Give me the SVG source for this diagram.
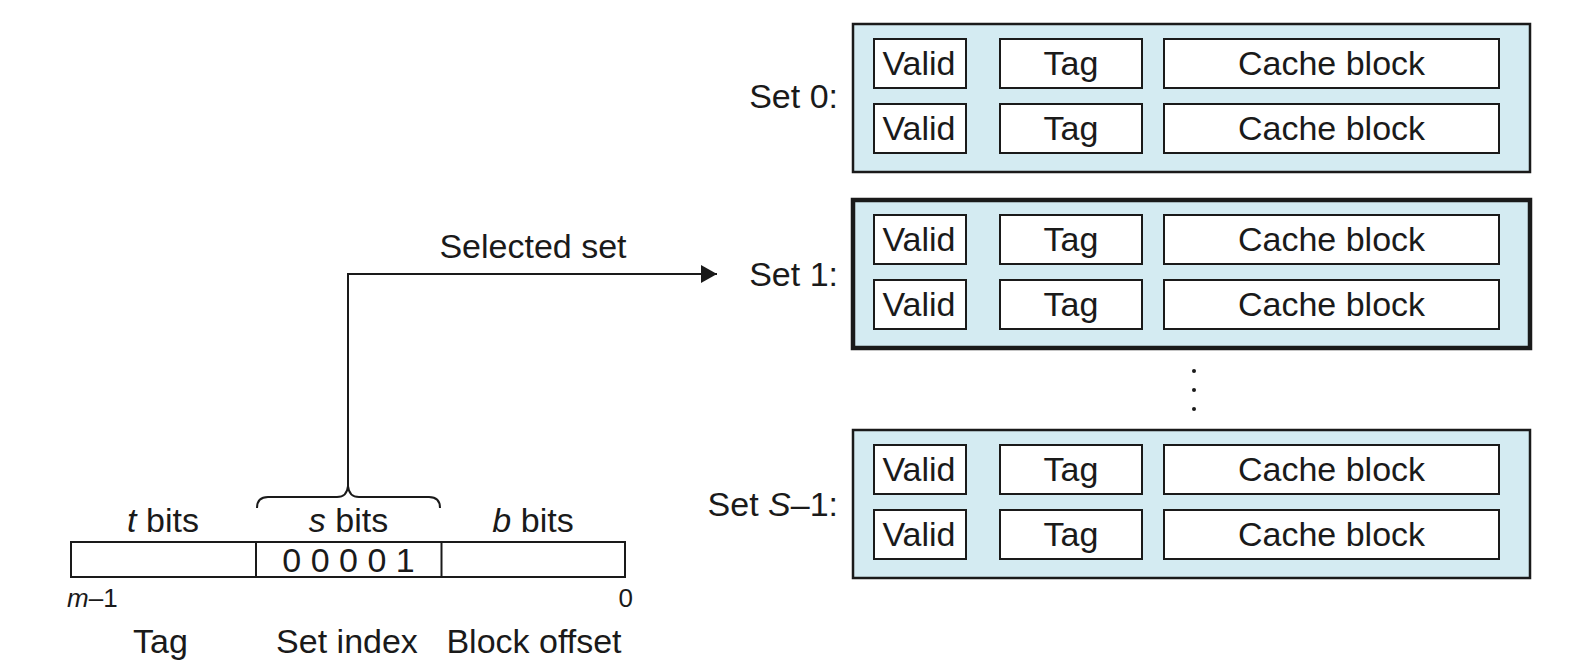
<svg xmlns="http://www.w3.org/2000/svg" width="1592" height="670" viewBox="0 0 1592 670">
<style>
text{font-family:"Liberation Sans",Arial,Helvetica,sans-serif;font-size:34px;fill:#1a1a1a}
.mid{text-anchor:middle}
.end{text-anchor:end}
.set{fill:#d4ebf2;stroke:#1a1a1a;stroke-width:2.5}
.set1{fill:#d4ebf2;stroke:#1a1a1a;stroke-width:4.5}
.cell{fill:#ffffff;stroke:#1a1a1a;stroke-width:2}
.bar{fill:#ffffff;stroke:#1a1a1a;stroke-width:2}
.line{fill:none;stroke:#1a1a1a;stroke-width:2}
.small{font-size:26px}
</style>
<defs>
<marker id="arrow" viewBox="0 0 16 18" refX="16" refY="9" markerWidth="16" markerHeight="18" markerUnits="userSpaceOnUse" orient="auto">
<path d="M0,0 L16,9 L0,18 Z" fill="#1a1a1a"/>
</marker>
<g id="lines">
<rect class="cell" x="874" y="0" width="92" height="49"/>
<rect class="cell" x="1000" y="0" width="142" height="49"/>
<rect class="cell" x="1164" y="0" width="335" height="49"/>
<text class="mid" x="919" y="36">Valid</text>
<text class="mid" x="1071" y="36">Tag</text>
<text class="mid" x="1331.5" y="36">Cache block</text>
<rect class="cell" x="874" y="65" width="92" height="49"/>
<rect class="cell" x="1000" y="65" width="142" height="49"/>
<rect class="cell" x="1164" y="65" width="335" height="49"/>
<text class="mid" x="919" y="101">Valid</text>
<text class="mid" x="1071" y="101">Tag</text>
<text class="mid" x="1331.5" y="101">Cache block</text>
</g>
</defs>

<g id="set0">
<rect class="set" x="853" y="24" width="677" height="148"/>
<use href="#lines" y="39"/>
<text class="end" x="838" y="108">Set 0:</text>
</g>

<g id="set1">
<rect class="set1" x="853" y="200" width="677" height="148"/>
<use href="#lines" y="215"/>
<text class="end" x="838" y="286">Set 1:</text>
</g>

<g id="dots">
<circle cx="1194" cy="371" r="2" fill="#1a1a1a"/>
<circle cx="1194" cy="390" r="2" fill="#1a1a1a"/>
<circle cx="1194" cy="409" r="2" fill="#1a1a1a"/>
</g>

<g id="setS1">
<rect class="set" x="853" y="430" width="677" height="148"/>
<use href="#lines" y="445"/>
<text class="end" x="838" y="516">Set <tspan font-style="italic">S</tspan>–1:</text>
</g>

<g id="address">
<rect class="bar" x="71" y="542" width="554" height="35"/>
<line class="line" x1="256" y1="542" x2="256" y2="577"/>
<line class="line" x1="441.5" y1="542" x2="441.5" y2="577"/>
<text class="mid" x="163" y="532"><tspan font-style="italic">t</tspan> bits</text>
<text class="mid" x="348.5" y="532"><tspan font-style="italic">s</tspan> bits</text>
<text class="mid" x="533" y="532"><tspan font-style="italic">b</tspan> bits</text>
<text class="mid" x="348.5" y="572" font-size="35">0 0 0 0 1</text>
<text class="small" x="67" y="607"><tspan font-style="italic">m</tspan>–1</text>
<text class="small end" x="633" y="607">0</text>
<text class="mid" x="160.5" y="653">Tag</text>
<text class="mid" x="347" y="653">Set index</text>
<text class="mid" x="534" y="653">Block offset</text>
</g>

<g id="connectors">
<path class="line" d="M257,508 Q257,497 268,497 L337,497 Q347,497 348,486 Q349,497 359,497 L429,497 Q440,497 440,508"/>
<path class="line" d="M348,486 L348,274 L717,274" marker-end="url(#arrow)"/>
<text class="mid" x="533" y="258">Selected set</text>
</g>
</svg>
